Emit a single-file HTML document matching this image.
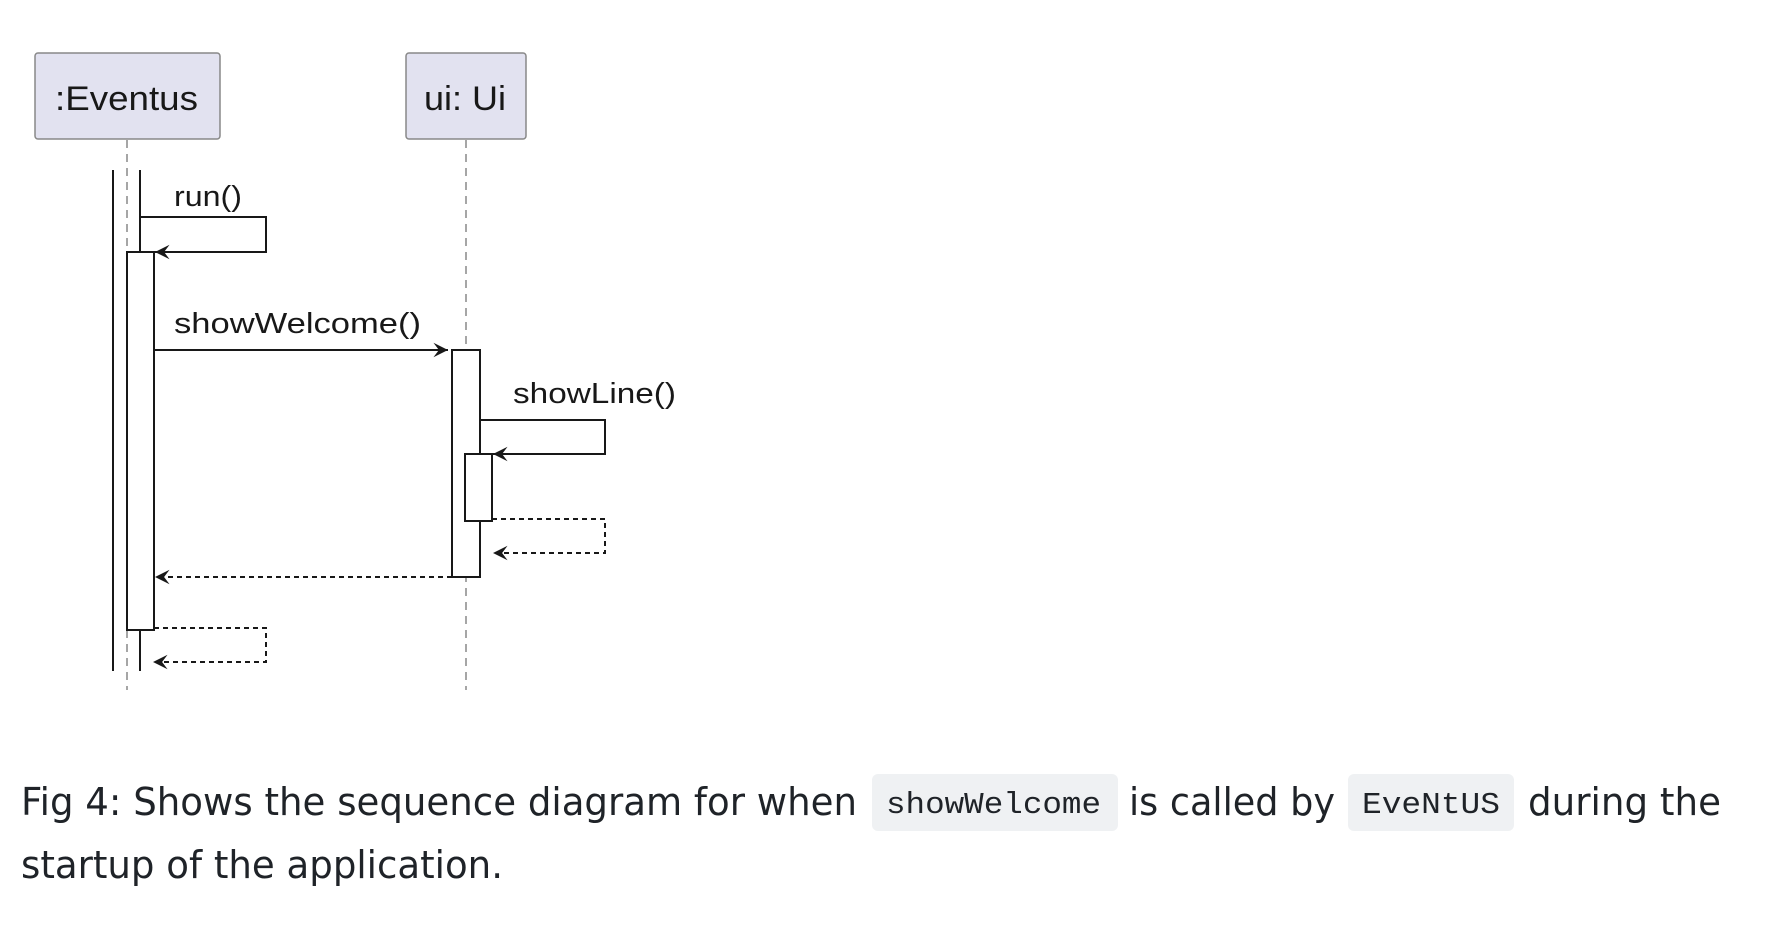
<!DOCTYPE html>
<html><head><meta charset="utf-8"><style>
html,body{margin:0;padding:0;background:#fff;}
svg{display:block}
</style></head><body>
<svg width="1792" height="932" viewBox="0 0 1792 932" xmlns="http://www.w3.org/2000/svg">
<defs>
<marker id="a" markerWidth="20" markerHeight="20" refX="0" refY="0" orient="auto" markerUnits="userSpaceOnUse" viewBox="-20 -10 22 20">
<path d="M0 0 L-16 -8 L-10 0 L-16 8 Z" fill="#181818"/>
</marker>
</defs>
<g font-family="Liberation Sans, sans-serif" fill="#181818">
<rect x="35" y="53" width="185" height="86" rx="3" fill="#e2e2f0" stroke="#888" stroke-width="1.5"/>
<text x="55" y="110" font-size="34" textLength="143" lengthAdjust="spacingAndGlyphs">:Eventus</text>
<rect x="406" y="53" width="120" height="86" rx="3" fill="#e2e2f0" stroke="#888" stroke-width="1.5"/>
<text x="424" y="110" font-size="34" textLength="82" lengthAdjust="spacingAndGlyphs">ui: Ui</text>
</g>
<g stroke="#181818" fill="none" stroke-width="2">
<line x1="127" y1="140" x2="127" y2="690" stroke="#888" stroke-width="1.5" stroke-dasharray="8,6"/>
<line x1="466" y1="140" x2="466" y2="690" stroke="#888" stroke-width="1.5" stroke-dasharray="8,6"/>
<line x1="113" y1="170" x2="113" y2="671"/>
<line x1="140" y1="170" x2="140" y2="671"/>
<polyline points="140,217 266,217 266,252 155,252" marker-end="url(#a)"/>
<rect x="127" y="252" width="27" height="378" fill="#fff"/>
<line x1="154" y1="350" x2="448" y2="350" marker-end="url(#a)"/>
<rect x="452" y="350" width="28" height="227" fill="#fff"/>
<polyline points="480,420 605,420 605,454 493,454" marker-end="url(#a)"/>
<rect x="465" y="454" width="27" height="67" fill="#fff"/>
<polyline points="492,519 605,519 605,553 493,553" stroke-dasharray="5,4" marker-end="url(#a)"/>
<line x1="452" y1="577" x2="155" y2="577" stroke-dasharray="5,4" marker-end="url(#a)"/>
<polyline points="154,628 266,628 266,662 153,662" stroke-dasharray="5,4" marker-end="url(#a)"/>
</g>
<g font-family="Liberation Sans, sans-serif" fill="#181818" font-size="29">
<text x="174" y="206" textLength="68" lengthAdjust="spacingAndGlyphs">run()</text>
<text x="174" y="333" textLength="247" lengthAdjust="spacingAndGlyphs">showWelcome()</text>
<text x="513" y="403" textLength="163" lengthAdjust="spacingAndGlyphs">showLine()</text>
</g>
<rect x="872" y="774" width="246" height="57" rx="6" fill="#eff1f3"/>
<rect x="1348" y="774" width="166" height="57" rx="6" fill="#eff1f3"/>
<g font-family="DejaVu Sans, Liberation Sans, sans-serif" fill="#1f2328" font-size="38">
<text x="21" y="815" textLength="836" lengthAdjust="spacingAndGlyphs">Fig 4: Shows the sequence diagram for when</text>
<text x="1129" y="815" textLength="206" lengthAdjust="spacingAndGlyphs">is called by</text>
<text x="1528" y="815" textLength="193" lengthAdjust="spacingAndGlyphs">during the</text>
<text x="21" y="878" textLength="482" lengthAdjust="spacingAndGlyphs">startup of the application.</text>
</g>
<g font-family="Liberation Mono, DejaVu Sans Mono, monospace" fill="#1f2328" font-size="31">
<text x="886" y="813" textLength="215" lengthAdjust="spacingAndGlyphs">showWelcome</text>
<text x="1362" y="813" textLength="138" lengthAdjust="spacingAndGlyphs">EveNtUS</text>
</g>
</svg>
</body></html>
